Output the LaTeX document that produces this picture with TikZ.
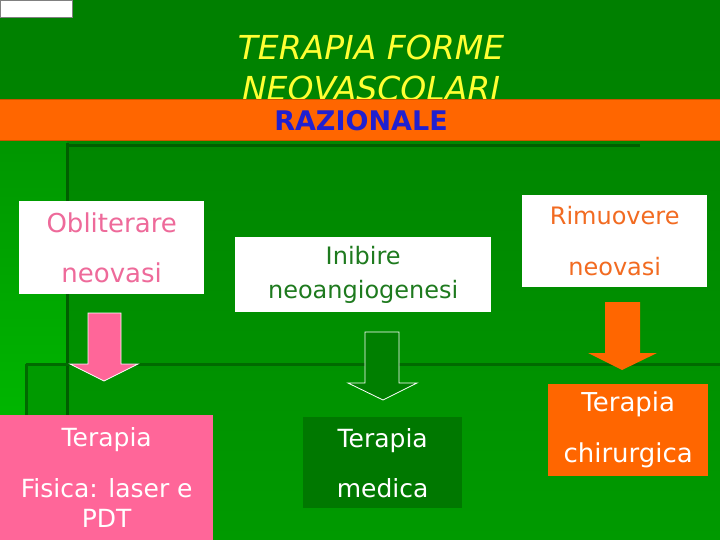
\documentclass[tikz,border=0pt]{standalone}
\usepackage{fontspec}
\setmainfont{DejaVu Sans}
\definecolor{bgtop}{HTML}{007F00}
\definecolor{bgbot}{HTML}{009A00}
\definecolor{stripT}{HTML}{009600}
\definecolor{stripB}{HTML}{00C400}
\definecolor{darkrule}{HTML}{005E00}
\definecolor{band}{HTML}{FF6600}
\definecolor{rosa}{HTML}{FF6699}
\definecolor{rosatxt}{HTML}{EE6A9A}
\definecolor{verdetxt}{HTML}{1E7A1E}
\definecolor{verdebox}{HTML}{007800}
\definecolor{arancio}{HTML}{F26B21}
\definecolor{titolo}{HTML}{FFFF33}
\definecolor{blu}{HTML}{2020D0}
\tikzset{
  box/.style={anchor=north west,inner sep=0pt,align=center},
  rule/.style={line width=3pt,draw=darkrule},
  bigarrow/.style={draw=white,line width=0.8pt,line join=miter},
}

\begin{document}
\begin{tikzpicture}[x=1pt,y=-1pt]
    \useasboundingbox (0,0) rectangle (720,540);
    \shade[top color=bgtop,bottom color=bgbot] (0,0) rectangle (720,540);
    \shade[top color=stripT,bottom color=stripB] (0,140) rectangle (67,540);
    \fill[bgbot!85!stripT] (27,364) rectangle (67,540);
    \draw[rule] (67,143) -- (67,540);
    \draw[rule] (67,146) -- (640,146);
    \draw[rule,draw=darkrule!80!bgbot] (26,364) -- (720,364);
    \draw[rule,draw=darkrule!80!bgbot] (26,364) -- (26,540);
    \draw[fill=white,draw=gray] (0,0) rectangle (72,17);
    \node[font=\itshape\fontsize{33}{41}\selectfont,text=titolo,align=center] (title) at (371,68) {TERAPIA FORME\\NEOVASCOLARI};
    \fill[band] (0,99) rectangle (720,140);
    \draw[band!80!black,line width=0.6pt] (0,99) -- (720,99) (0,140) -- (720,140);
    \node[font=\bfseries\fontsize{27}{30}\selectfont,text=blu] (raz) at (361,121) {RAZIONALE};

    \node[box,fill=white,minimum width=185,minimum height=93,text=rosatxt,font=\fontsize{26}{50}\selectfont] (oblit) at (19,201) {Obliterare\\neovasi};
    \node[box,fill=white,minimum width=256,minimum height=75,text=verdetxt,font=\fontsize{24}{34}\selectfont] (inib) at (235,237) {Inibire\\neoangiogenesi};
    \node[box,fill=white,minimum width=185,minimum height=92,text=arancio,font=\fontsize{24}{51}\selectfont] (rimuov) at (522,195) {Rimuovere\\neovasi};

    \node[box,fill=rosa,minimum width=213,minimum height=125,text=white,font=\fontsize{25}{30}\selectfont] (fisica) at (0,415) {Terapia\\[21pt]Fisica: laser e\\PDT};
    \node[box,fill=verdebox,minimum width=159,minimum height=91,text=white,font=\fontsize{25}{50}\selectfont] (medica) at (303,417) {Terapia\\medica};
    \node[box,fill=band,minimum width=160,minimum height=92,text=white,font=\fontsize{26}{51}\selectfont] (chir) at (548,384) {Terapia\\chirurgica};

    \draw[bigarrow,fill=rosa] (88,313) -- (121,313) -- (121,364) -- (138,364) -- (104,381) -- (70,364) -- (88,364) -- cycle;
    \draw[bigarrow,fill=bgtop] (365,332) -- (399,332) -- (399,383) -- (417,383) -- (383,400) -- (348,383) -- (365,383) -- cycle;
    \fill[band] (605,302) -- (640,302) -- (640,353) -- (657,353) -- (622,370) -- (588,353) -- (605,353) -- cycle;
\end{tikzpicture}
\end{document}
